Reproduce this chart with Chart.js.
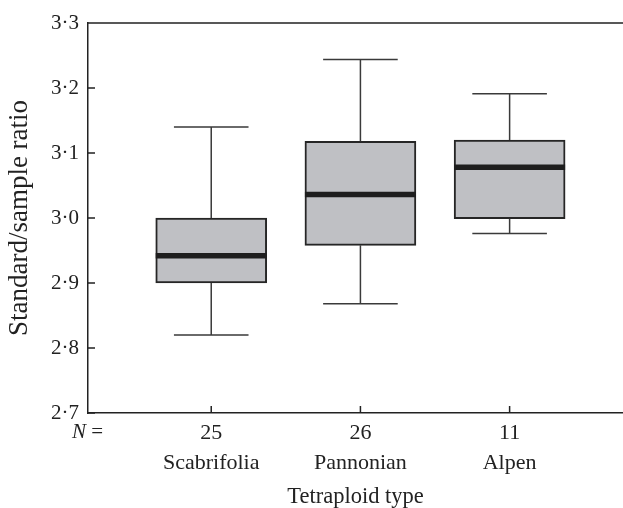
<!DOCTYPE html>
<html>
<head>
<meta charset="utf-8">
<script src="https://cdn.jsdelivr.net/npm/chart.js@4.4.1/dist/chart.umd.min.js"></script>
<style>
  html, body { margin: 0; padding: 0; background: #fff; overflow: hidden; }
  #wrap { width: 623px; height: 508px; position: relative; }
</style>
</head>
<body>
<div id="wrap"><canvas id="boxChart"></canvas></div>
<script>
// Werte
const categories = ["Scabrifolia", "Pannonian", "Alpen"];
const sampleN = [25, 26, 11];
const positions = [1, 2, 3];
const whiskerLow = [2.82, 2.868, 2.976];
const q1 = [2.9, 2.958, 2.999];
const median = [2.942, 3.036, 3.078];
const q3 = [3.0, 3.118, 3.12];
const whiskerHigh = [3.14, 3.244, 3.191];
const yTicks = [2.7, 2.8, 2.9, 3.0, 3.1, 3.2, 3.3];

const serif = "'Liberation Serif', 'DejaVu Serif', serif";
const ink = "#222222";

// Whisker, Median, Ticks nach innen, oberer Rahmen
const boxExtras = {
  id: "boxExtras",
  afterDatasetsDraw(chart) {
    const ctx = chart.ctx;
    const xs = chart.scales.x;
    const ys = chart.scales.y;
    const area = chart.chartArea;
    const bars = chart.getDatasetMeta(0).data;
    ctx.save();

    // whisker
    ctx.strokeStyle = "#3a3a3a";
    ctx.lineWidth = 1.5;
    for (let i = 0; i < positions.length; i++) {
      const cx = xs.getPixelForValue(positions[i]);
      const capL = xs.getPixelForValue(positions[i] - 0.25);
      const capR = xs.getPixelForValue(positions[i] + 0.25);
      ctx.beginPath();
      ctx.moveTo(cx, ys.getPixelForValue(q3[i]));
      ctx.lineTo(cx, ys.getPixelForValue(whiskerHigh[i]));
      ctx.moveTo(cx, ys.getPixelForValue(q1[i]));
      ctx.lineTo(cx, ys.getPixelForValue(whiskerLow[i]));
      ctx.moveTo(capL, ys.getPixelForValue(whiskerHigh[i]));
      ctx.lineTo(capR, ys.getPixelForValue(whiskerHigh[i]));
      ctx.moveTo(capL, ys.getPixelForValue(whiskerLow[i]));
      ctx.lineTo(capR, ys.getPixelForValue(whiskerLow[i]));
      ctx.stroke();
    }

    // median
    ctx.strokeStyle = "#1e1e1e";
    ctx.lineWidth = 5.5;
    for (let i = 0; i < bars.length; i++) {
      const b = bars[i];
      const my = ys.getPixelForValue(median[i]);
      ctx.beginPath();
      ctx.moveTo(b.x - b.width / 2, my);
      ctx.lineTo(b.x + b.width / 2, my);
      ctx.stroke();
    }

    // ticks nach innen + oberer Rahmen
    ctx.strokeStyle = ink;
    ctx.lineWidth = 1.5;
    ctx.beginPath();
    yTicks.forEach(v => {
      const y = ys.getPixelForValue(v);
      ctx.moveTo(area.left, y);
      ctx.lineTo(area.left + 7, y);
    });
    positions.forEach(p => {
      const x = xs.getPixelForValue(p);
      ctx.moveTo(x, area.bottom);
      ctx.lineTo(x, area.bottom - 7);
    });
    ctx.moveTo(area.left, area.top);
    ctx.lineTo(area.right, area.top);
    ctx.stroke();

    // N =
    const nY = area.bottom + 19;
    ctx.fillStyle = ink;
    ctx.textBaseline = "middle";
    ctx.textAlign = "left";
    ctx.font = "italic 21px " + serif;
    ctx.fillText("N", 72, nY);
    const nW = ctx.measureText("N").width;
    ctx.font = "21px " + serif;
    ctx.fillText(" =", 72 + nW, nY);
    ctx.restore();
  }
};

const ctx = document.getElementById("boxChart");
new Chart(ctx, {
  type: "bar",
  data: {
    datasets: [{
      data: positions.map((p, i) => ({ x: p, y: [q1[i], q3[i]] })),
      backgroundColor: "#bfc0c4",
      borderColor: "#262626",
      borderWidth: 2,
      borderSkipped: false,
      barThickness: 111
    }]
  },
  options: {
    responsive: true,
    maintainAspectRatio: false,
    animation: false,
    layout: { padding: { top: 23, right: 0, left: 0, bottom: 0 } },
    plugins: { legend: { display: false }, tooltip: { enabled: false } },
    scales: {
      x: {
        type: "linear",
        offset: false,
        min: 0.174,
        max: 3.76,
        afterBuildTicks: s => { s.ticks = positions.map(v => ({ value: v })); },
        afterFit: s => { s.height = 95; },
        grid: { display: false, drawTicks: false },
        border: { display: true, color: ink, width: 1.5 },
        ticks: {
          autoSkip: false,
          maxRotation: 0,
          padding: 5,
          color: ink,
          font: { family: serif, size: 22, lineHeight: 1.36 },
          callback: (v, i) => [String(sampleN[i]), categories[i]]
        },
        title: {
          display: true,
          text: "Tetraploid type",
          color: ink,
          font: { family: serif, size: 22.5 },
          padding: { top: 0, bottom: -3 }
        }
      },
      y: {
        min: 2.7,
        max: 3.3,
        afterBuildTicks: s => { s.ticks = yTicks.map(v => ({ value: v })); },
        afterFit: s => { s.width = 88; },
        grid: { display: false, drawTicks: false },
        border: { display: true, color: ink, width: 1.5 },
        ticks: {
          padding: 9,
          color: ink,
          font: { family: serif, size: 21 },
          callback: v => v.toFixed(1).replace(".", "\u00B7")
        },
        title: {
          display: true,
          text: "Standard/sample ratio",
          color: ink,
          font: { family: serif, size: 27 },
          padding: { top: 4, bottom: 0 }
        }
      }
    }
  },
  plugins: [boxExtras]
});
</script>
</body>
</html>
